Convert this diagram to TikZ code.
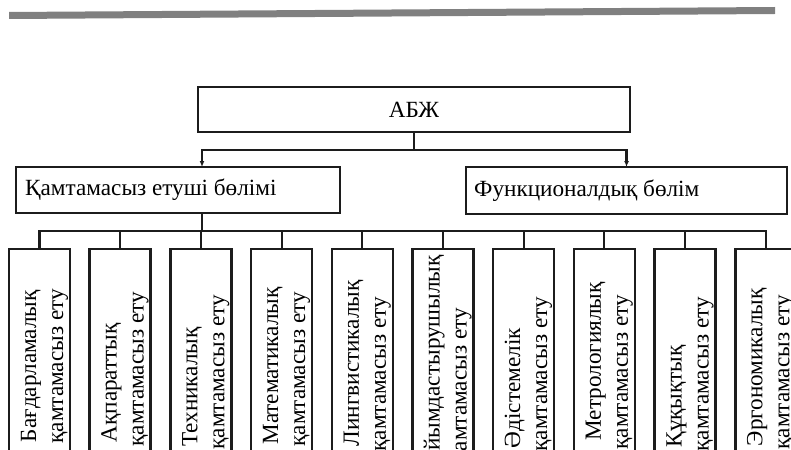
\documentclass[tikz,border=0pt]{standalone}
\usepackage{fontspec}
\setmainfont{Liberation Serif}
\usetikzlibrary{arrows.meta}
\definecolor{ink}{HTML}{1C1C1C}
\definecolor{rule}{HTML}{808080}

\begin{document}
\begin{tikzpicture}[x=1pt,y=-1pt,
  frame/.style={draw=ink, line width=2.5pt, inner sep=0pt, outer sep=0pt},
  link/.style={draw=ink, line width=2.1pt},
  tip/.style={-{Latex[length=6pt,width=5pt]}},
  txt/.style={font=\fontsize{23.2}{27}\selectfont, inner sep=0pt, text=black},
  vtxt/.style={txt, rotate=90, anchor=base east}]

\path[use as bounding box, clip] (0,0) rectangle (791,449);

% header rule
\fill[rule] (9,12) -- (775,7) -- (775,14) -- (9,19) -- cycle;

% top level
\node[frame, minimum width=432pt, minimum height=45pt] (abj) at (414,109.5) {};
\node[txt] (abjt) at (abj.center) {АБЖ};

% second level
\node[frame, minimum width=324pt, minimum height=46pt] (sup) at (178,190) {};
\node[txt, anchor=west] (supt) at (25,190) {Қамтамасыз етуші бөлімі};
\node[frame, minimum width=321pt, minimum height=47pt] (fun) at (626.5,190.5) {};
\node[txt, anchor=west] (funt) at (474,190.5) {Функционалдық бөлім};

\draw[link] (abj.south) -- ++(0,18) coordinate (hub);
\draw[link, tip] (hub) -| ([xshift=24pt]sup.north);
\draw[link, tip] (hub) -| (fun.north);

% support subsystems
\draw[link] ([xshift=24pt]sup.south) -- ++(0,18) coordinate (bus);

\foreach \i/\first/\ta/\tb in {
  1/Бағдарламалық/290/289,
  2/Ақпараттық/323/292,
  3/Техникалық/327/295,
  4/Математикалық/287/292,
  5/Лингвистикалық/280/297,
  6/Ұйымдастырушылық/255/308,
  7/Әдістемелік/328/297,
  8/Метрологиялық/282/295,
  9/Құқықтық/345/297,
  10/Эргономикалық/288/295} {
  \pgfmathsetmacro{\lx}{9+80.7*(\i-1)}
  \node[frame, minimum width=61pt, minimum height=240pt, anchor=north west]
    (b\i) at (\lx,249) {};
  \draw[link] (bus) -| (b\i.north);
  \node[vtxt] (b\i a) at (\lx+27,\ta) {\first};
  \node[vtxt] (b\i b) at (\lx+54,\tb) {қамтамасыз ету};
}
\end{tikzpicture}
\end{document}
